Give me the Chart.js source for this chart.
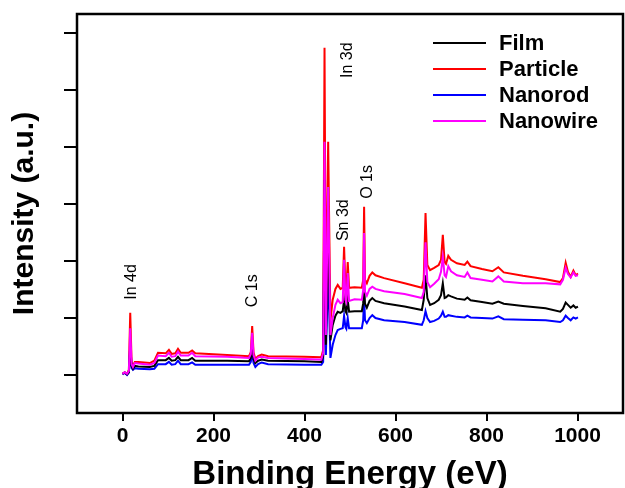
<!DOCTYPE html>
<html>
<head>
<meta charset="utf-8">
<script src="https://cdn.jsdelivr.net/npm/chart.js@4.4.0/dist/chart.umd.min.js"></script>
<style>
  html, body { margin: 0; padding: 0; background: #fff; }
  #wrap { width: 625px; height: 488px; }
</style>
</head>
<body>
<div id="wrap"><canvas id="xps" width="625" height="488"></canvas></div>
<script>
// XPS survey spectra, binding energy (eV) and intensity (a.u.)
const energy = [
  0, 5, 10, 14, 17, 20, 23, 27, 35, 60, 70, 78, 95, 102, 108, 116, 122, 128, 145, 153,
  160, 230, 278, 282, 285, 288, 292, 298, 306, 320, 400, 437, 441, 444, 447, 452, 457, 462, 468, 473,
  479, 484, 487, 490, 492, 495, 498, 510, 526, 529, 531, 533, 537, 543, 549, 556, 575, 620, 658, 662,
  666, 670, 676, 685, 695, 700, 704, 708, 711, 716, 722, 735, 752, 758, 765, 790, 813, 826, 838, 880,
  930, 962, 968, 974, 979, 985, 991, 996, 1001
];
const film = [
  0.02, 0.04, 0.01, 0.05, 0.53, 0.16, 0.11, 0.16, 0.15, 0.14, 0.16, 0.26, 0.26, 0.30, 0.25, 0.26, 0.32, 0.26, 0.26, 0.30,
  0.25, 0.25, 0.24, 0.30, 0.51, 0.28, 0.21, 0.25, 0.27, 0.25, 0.24, 0.23, 0.33, 3.42, 0.53, 2.54, 0.61, 0.88, 1.04, 1.11,
  1.09, 1.12, 1.32, 1.12, 1.09, 1.32, 1.11, 1.12, 1.12, 1.26, 1.54, 1.25, 1.18, 1.30, 1.35, 1.30, 1.26, 1.20, 1.14, 1.32,
  1.75, 1.35, 1.23, 1.26, 1.32, 1.40, 1.61, 1.35, 1.36, 1.40, 1.38, 1.34, 1.32, 1.36, 1.31, 1.28, 1.25, 1.29, 1.25, 1.21,
  1.17, 1.11, 1.16, 1.27, 1.23, 1.18, 1.22, 1.18, 1.20
];
const particle = [
  0.02, 0.05, 0.02, 0.09, 1.09, 0.23, 0.16, 0.23, 0.23, 0.21, 0.25, 0.39, 0.38, 0.44, 0.37, 0.38, 0.46, 0.39, 0.39, 0.43,
  0.38, 0.35, 0.33, 0.40, 0.86, 0.40, 0.28, 0.33, 0.36, 0.33, 0.32, 0.31, 0.44, 5.74, 0.79, 4.09, 0.96, 1.32, 1.51, 1.58,
  1.51, 1.53, 2.25, 1.54, 1.51, 1.98, 1.53, 1.54, 1.53, 1.67, 2.95, 1.67, 1.61, 1.74, 1.80, 1.75, 1.70, 1.61, 1.53, 1.67,
  2.84, 1.93, 1.84, 1.88, 1.93, 2.02, 2.46, 1.98, 1.95, 2.09, 2.02, 1.96, 1.93, 1.99, 1.91, 1.86, 1.82, 1.89, 1.80, 1.74,
  1.68, 1.63, 1.70, 1.97, 1.81, 1.72, 1.83, 1.75, 1.78
];
const nanorod = [
  0.01, 0.04, 0.00, 0.04, 0.44, 0.12, 0.09, 0.12, 0.11, 0.10, 0.11, 0.19, 0.19, 0.23, 0.18, 0.19, 0.25, 0.19, 0.19, 0.22,
  0.18, 0.18, 0.18, 0.23, 0.40, 0.21, 0.14, 0.19, 0.22, 0.19, 0.18, 0.18, 0.23, 2.54, 0.35, 1.84, 0.30, 0.53, 0.70, 0.79,
  0.81, 0.82, 1.04, 0.84, 0.81, 1.00, 0.82, 0.82, 0.82, 0.96, 1.37, 0.96, 0.91, 1.00, 1.05, 1.00, 0.96, 0.93, 0.88, 0.96,
  1.12, 1.00, 0.93, 0.95, 0.99, 1.04, 1.11, 1.02, 1.02, 1.05, 1.04, 1.02, 1.01, 1.04, 1.01, 1.00, 0.99, 1.03, 0.98, 0.97,
  0.96, 0.93, 0.96, 1.04, 1.00, 0.96, 1.01, 0.99, 1.01
];
const nanowire = [
  0.02, 0.05, 0.02, 0.07, 0.82, 0.19, 0.14, 0.21, 0.20, 0.18, 0.21, 0.34, 0.33, 0.39, 0.32, 0.33, 0.41, 0.34, 0.34, 0.39,
  0.33, 0.32, 0.30, 0.37, 0.74, 0.35, 0.25, 0.31, 0.32, 0.30, 0.28, 0.27, 0.39, 4.09, 0.70, 3.30, 0.70, 1.00, 1.23, 1.32,
  1.26, 1.28, 2.02, 1.32, 1.28, 1.79, 1.30, 1.33, 1.32, 1.49, 2.49, 1.46, 1.39, 1.51, 1.55, 1.51, 1.47, 1.42, 1.35, 1.46,
  2.33, 1.63, 1.54, 1.60, 1.68, 1.81, 2.07, 1.75, 1.72, 1.91, 1.82, 1.75, 1.72, 1.80, 1.70, 1.67, 1.64, 1.73, 1.64, 1.61,
  1.61, 1.59, 1.67, 1.88, 1.77, 1.71, 1.80, 1.74, 1.75
];

const seriesNames = ['Film', 'Particle', 'Nanorod', 'Nanowire'];
const xTickValues = [0, 200, 400, 600, 800, 1000];
const yTickValues = [0, 1, 2, 3, 4, 5, 6];
const peakNames = ['In 4d', 'C 1s', 'In 3d', 'Sn 3d', 'O 1s'];

// Styling and placement
const FONT = "'Liberation Sans', Arial, Helvetica, sans-serif";
const seriesColors = ['#000000', '#ff0000', '#0000ff', '#ff00ff'];
const seriesLayer = [2, 4, 3, 1];           // higher = drawn further back
const peakAnchors = [                        // start of each rotated peak label, in data units
  { x: 21, y: 1.32 }, { x: 285, y: 1.19 }, { x: 494, y: 5.21 }, { x: 487, y: 2.35 }, { x: 538, y: 3.09 }
];
const seriesByName = { Film: film, Particle: particle, Nanorod: nanorod, Nanowire: nanowire };

const datasets = seriesNames.map((name, i) => ({
  label: name,
  data: energy.map((e, k) => ({ x: e, y: seriesByName[name][k] })),
  borderColor: seriesColors[i],
  backgroundColor: seriesColors[i],
  borderWidth: 2,
  pointRadius: 0,
  tension: 0,
  fill: false,
  order: seriesLayer[i]
}));

// Closed black frame around the plotting area
const framePlugin = {
  id: 'frame',
  afterDraw(chart) {
    const { ctx, chartArea: a } = chart;
    ctx.save();
    ctx.strokeStyle = '#000';
    ctx.lineWidth = 2.5;
    ctx.strokeRect(a.left, a.top, a.right - a.left, a.bottom - a.top);
    ctx.restore();
  }
};

// Rotated peak assignments
const peakLabelPlugin = {
  id: 'peakLabels',
  afterDatasetsDraw(chart) {
    const { ctx, scales } = chart;
    ctx.save();
    ctx.fillStyle = '#000';
    ctx.font = `16px ${FONT}`;
    ctx.textAlign = 'left';
    ctx.textBaseline = 'middle';
    peakNames.forEach((txt, i) => {
      const px = scales.x.getPixelForValue(peakAnchors[i].x);
      const py = scales.y.getPixelForValue(peakAnchors[i].y);
      ctx.save();
      ctx.translate(px, py);
      ctx.rotate(-Math.PI / 2);
      ctx.fillText(txt, 0, 0);
      ctx.restore();
    });
    ctx.restore();
  }
};

// Legend in the upper right of the plotting area
const legendPlugin = {
  id: 'insetLegend',
  afterDatasetsDraw(chart) {
    const { ctx } = chart;
    ctx.save();
    ctx.font = `bold 22px ${FONT}`;
    ctx.textAlign = 'left';
    ctx.textBaseline = 'middle';
    chart.data.datasets.forEach((ds, i) => {
      const y = 43 + i * 26;
      ctx.strokeStyle = ds.borderColor;
      ctx.lineWidth = 2;
      ctx.beginPath();
      ctx.moveTo(433, y);
      ctx.lineTo(486, y);
      ctx.stroke();
      ctx.fillStyle = '#000';
      ctx.fillText(ds.label, 499, y + 1);
    });
    ctx.restore();
  }
};

new Chart(document.getElementById('xps'), {
  type: 'line',
  data: { datasets },
  options: {
    responsive: false,
    animation: false,
    events: [],
    layout: { padding: { top: 14, right: 2, left: 0, bottom: 0 } },
    plugins: { legend: { display: false }, tooltip: { enabled: false } },
    scales: {
      x: {
        type: 'linear',
        min: -100,
        max: 1100,
        afterBuildTicks: s => { s.ticks = xTickValues.map(v => ({ value: v })); },
        afterFit: s => { s.height = 75; },
        border: { display: false },
        grid: { display: true, drawOnChartArea: false, drawTicks: true, tickLength: 8, color: '#000', lineWidth: 2 },
        ticks: { color: '#000', autoSkip: false, maxRotation: 0, padding: 3,
                 callback: v => String(v),
                 font: { family: FONT, size: 21, weight: 'bold' } },
        title: { display: true, text: 'Binding Energy (eV)', color: '#000',
                 padding: { top: 0, bottom: -3 },
                 font: { family: FONT, size: 33, weight: 'bold', lineHeight: 1 } }
      },
      y: {
        type: 'linear',
        min: -2 / 3,
        max: 19 / 3,
        afterBuildTicks: s => { s.ticks = yTickValues.map(v => ({ value: v })); },
        afterFit: s => { s.width = 77; },
        border: { display: false },
        grid: { display: true, drawOnChartArea: false, drawTicks: true, tickLength: 13, color: '#000', lineWidth: 2 },
        ticks: { display: false },
        title: { display: true, text: 'Intensity (a.u.)', color: '#000',
                 padding: { top: 10, bottom: 0 },
                 font: { family: FONT, size: 30, weight: 'bold', lineHeight: 1 } }
      }
    }
  },
  plugins: [framePlugin, peakLabelPlugin, legendPlugin]
});
</script>
</body>
</html>
